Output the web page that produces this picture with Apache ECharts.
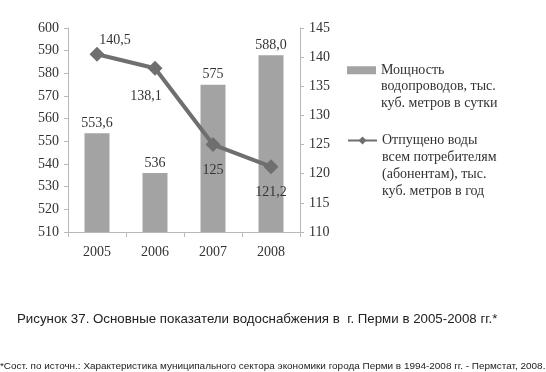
<!DOCTYPE html>
<html>
<head>
<meta charset="utf-8">
<script src="https://cdn.jsdelivr.net/npm/echarts@6/dist/echarts.min.js"></script>
<style>
  html, body { margin: 0; padding: 0; background: #fff; }
  #chart { width: 546px; height: 372px; }
</style>
</head>
<body>
<div id="chart"></div>
<script>
const years = ['2005', '2006', '2007', '2008'];
const capacity = [553.6, 536, 575, 588.0];
const capacityLabels = ['553,6', '536', '575', '588,0'];
const supplied = [140.5, 138.1, 125, 121.2];
const suppliedLabels = ['140,5', '138,1', '125', '121,2'];
const suppliedLabelPos = [[18, -14], [-9, 28], [0, 26], [0, 26]];

const barName = 'Мощность\nводопроводов, тыс.\nкуб. метров в сутки';
const lineName = 'Отпущено воды\nвсем потребителям\n(абонентам), тыс.\nкуб. метров в год';

const serif = '"Liberation Serif", "DejaVu Serif", serif';
const axisGray = '#b8b8b8';

const chart = echarts.init(document.getElementById('chart'));

// pad with blank lines above so the icon sits level with the first line
const firstLineAligned = name => {
  const n = name.split('\n').length - 1;
  return ' \n'.repeat(n) + name;
};

const option = {
  animation: false,
  grid: { left: 68, right: 246, top: 28, bottom: 140 },
  legend: [
    {
      data: [{ name: barName, icon: 'rect' }],
      left: 347, top: 29, padding: 0,
      itemWidth: 29, itemHeight: 8, itemGap: 4,
      formatter: firstLineAligned,
      textStyle: { fontFamily: serif, fontSize: 14, color: '#333', lineHeight: 16.5 }
    },
    {
      data: [{ name: lineName }],
      left: 347, top: 81, padding: 0,
      itemWidth: 29, itemHeight: 10, itemGap: 4,
      formatter: firstLineAligned,
      textStyle: { fontFamily: serif, fontSize: 14, color: '#333', lineHeight: 17 }
    }
  ],
  xAxis: {
    type: 'category',
    data: years,
    axisLine: { lineStyle: { color: axisGray } },
    axisTick: { show: true, alignWithLabel: false, length: 5, lineStyle: { color: axisGray } },
    axisLabel: { fontFamily: serif, fontSize: 14, color: '#333', margin: 13 }
  },
  yAxis: [
    {
      type: 'value', min: 510, max: 600, interval: 10,
      axisLine: { show: true, lineStyle: { color: axisGray } },
      axisTick: { show: true, length: 4, lineStyle: { color: axisGray } },
      splitLine: { show: false },
      axisLabel: { fontFamily: serif, fontSize: 14, color: '#333', margin: 9 }
    },
    {
      type: 'value', min: 110, max: 145, interval: 5,
      axisLine: { show: true, lineStyle: { color: axisGray } },
      axisTick: { show: true, length: 4, lineStyle: { color: axisGray } },
      splitLine: { show: false },
      axisLabel: { fontFamily: serif, fontSize: 14, color: '#333', margin: 9 }
    }
  ],
  series: [
    {
      name: barName,
      type: 'bar',
      data: capacity,
      barWidth: 25,
      itemStyle: { color: '#a3a3a3' },
      label: {
        show: true, position: 'top', distance: 3,
        fontFamily: serif, fontSize: 14, color: '#333',
        formatter: p => capacityLabels[p.dataIndex]
      }
    },
    {
      name: lineName,
      type: 'line',
      yAxisIndex: 1,
      data: supplied.map((v, i) => ({
        value: v,
        label: { offset: suppliedLabelPos[i] }
      })),
      symbol: 'diamond',
      symbolSize: 15,
      lineStyle: { color: '#6f6f6f', width: 4 },
      itemStyle: { color: '#6f6f6f' },
      label: {
        show: true, position: 'inside',
        fontFamily: serif, fontSize: 14, color: '#333',
        formatter: p => suppliedLabels[p.dataIndex]
      },
      z: 5
    }
  ],
  graphic: [
    {
      type: 'text', left: 17, top: 313,
      style: {
        text: 'Рисунок 37. Основные показатели водоснабжения в  г. Перми в 2005-2008 гг.*',
        font: '13.3px "Liberation Sans", Arial, sans-serif', fill: '#222'
      }
    },
    {
      type: 'text', left: 0, top: 361,
      style: {
        text: '*Сост. по источн.: Характеристика муниципального сектора экономики города Перми в 1994-2008 гг. - Пермстат, 2008.',
        font: '9.95px "Liberation Sans", Arial, sans-serif', fill: '#222'
      }
    }
  ]
};

chart.setOption(option);
</script>
</body>
</html>
